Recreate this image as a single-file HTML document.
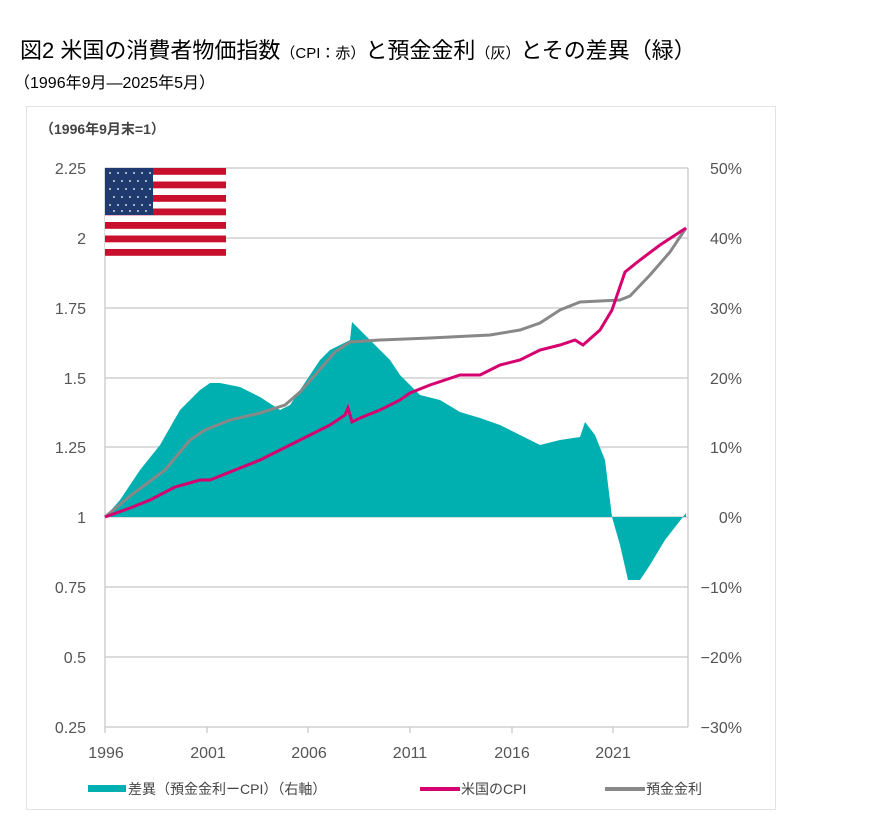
<!DOCTYPE html>
<html><head><meta charset="utf-8"><style>
body{margin:0;background:#fff;font-family:"Liberation Sans","Noto Sans CJK JP",sans-serif;}
</style></head><body>
<svg width="869" height="828" xmlns="http://www.w3.org/2000/svg" style="display:block">
<text x="20" y="58" font-size="22" font-family="Liberation Sans,Noto Sans CJK JP,sans-serif" fill="#000">図2  米国の消費者物価指数<tspan font-size="15">（CPI：赤）</tspan>と預金金利<tspan font-size="15">（灰）</tspan>とその差異（緑）</text>
<text x="14" y="88" font-size="16" font-family="Liberation Sans,Noto Sans CJK JP,sans-serif" fill="#000">（1996年9月—2025年5月）</text>
<rect x="26.5" y="106.5" width="749" height="703" fill="#fff" stroke="#e3e3e3"/>
<text x="40" y="134" font-size="14" font-weight="bold" fill="#444" font-family="Liberation Sans,Noto Sans CJK JP,sans-serif">（1996年9月末=1）</text>
<g stroke="#c8c8c8" stroke-width="1.3">
<line x1="105" y1="168" x2="688" y2="168"/><line x1="105" y1="238" x2="688" y2="238"/>
<line x1="105" y1="308" x2="688" y2="308"/><line x1="105" y1="378" x2="688" y2="378"/>
<line x1="105" y1="447" x2="688" y2="447"/><line x1="105" y1="517" x2="688" y2="517"/>
<line x1="105" y1="587" x2="688" y2="587"/><line x1="105" y1="657" x2="688" y2="657"/>
<line x1="105" y1="727" x2="688" y2="727"/><line x1="105" y1="168" x2="105" y2="733"/>
<line x1="688" y1="168" x2="688" y2="727"/>
<line x1="207" y1="727" x2="207" y2="733"/><line x1="308" y1="727" x2="308" y2="733"/>
<line x1="410" y1="727" x2="410" y2="733"/><line x1="512" y1="727" x2="512" y2="733"/><line x1="613" y1="727" x2="613" y2="733"/>
</g>
<g font-size="16" fill="#555" text-anchor="end">
<text x="86" y="174">2.25</text><text x="86" y="244">2</text><text x="86" y="314">1.75</text><text x="86" y="384">1.5</text><text x="86" y="453">1.25</text><text x="86" y="523">1</text><text x="86" y="593">0.75</text><text x="86" y="663">0.5</text><text x="86" y="733">0.25</text>
</g>
<g font-size="16" fill="#555" text-anchor="end">
<text x="742" y="174">50%</text><text x="742" y="244">40%</text><text x="742" y="314">30%</text><text x="742" y="384">20%</text><text x="742" y="453">10%</text><text x="742" y="523">0%</text><text x="742" y="593">−10%</text><text x="742" y="663">−20%</text><text x="742" y="733">−30%</text>
</g>
<g font-size="16" fill="#555" text-anchor="middle">
<text x="106" y="758">1996</text><text x="208" y="758">2001</text><text x="309" y="758">2006</text><text x="410" y="758">2011</text><text x="512" y="758">2016</text><text x="613" y="758">2021</text>
</g>
<path fill="#00b0b0" d="M105,517 L120,500 L140,470 L160,445 L180,410 L200,390 L210,383 L220,383 L240,387 L260,397 L280,410 L290,405 L300,390 L310,375 L320,360 L330,350 L340,345 L350,340 L352,322 L358,328 L365,335 L375,345 L390,360 L400,375 L420,395 L440,400 L460,412 L480,418 L500,425 L520,435 L540,445 L560,440 L580,437 L585,422 L595,435 L605,460 L612,517 L620,545 L628,580 L640,580 L650,565 L665,540 L686,513 L686,517 Z"/>
<polyline fill="none" stroke="#888" stroke-width="3" points="105,517 130,496 165,470 190,440 205,430 230,420 260,413 285,405 300,392 315,375 335,352 350,342 380,340 430,338 490,335 520,330 540,323 560,310 580,302 600,301 620,300 630,296 650,275 670,252 686,228"/>
<polyline fill="none" stroke="#d6006f" stroke-width="3" points="105,517 130,508 150,500 175,487 200,480 210,480 230,472 260,460 290,445 310,435 330,425 345,415 348,408 352,422 360,418 380,410 400,400 410,393 430,385 460,375 480,375 500,365 520,360 540,350 560,345 575,340 583,345 600,330 612,310 625,272 640,260 660,245 686,228"/>
<rect x="105" y="168" width="121" height="88" fill="#fff"/>
<g fill="#c8102e">
<rect x="105" y="168" width="121" height="6.8"/><rect x="105" y="181.5" width="121" height="6.8"/><rect x="105" y="195" width="121" height="6.8"/><rect x="105" y="208.5" width="121" height="6.8"/><rect x="105" y="222" width="121" height="6.8"/><rect x="105" y="235.5" width="121" height="6.8"/><rect x="105" y="249" width="121" height="6.8"/>
</g>
<rect x="105" y="168" width="48" height="47" fill="#1f3a6e"/>
<g fill="#fff" opacity="0.8">
<circle cx="110" cy="173" r="1"/><circle cx="118" cy="173" r="1"/><circle cx="126" cy="173" r="1"/><circle cx="134" cy="173" r="1"/><circle cx="142" cy="173" r="1"/><circle cx="150" cy="173" r="1"/>
<circle cx="114" cy="181" r="1"/><circle cx="122" cy="181" r="1"/><circle cx="130" cy="181" r="1"/><circle cx="138" cy="181" r="1"/><circle cx="146" cy="181" r="1"/>
<circle cx="110" cy="189" r="1"/><circle cx="118" cy="189" r="1"/><circle cx="126" cy="189" r="1"/><circle cx="134" cy="189" r="1"/><circle cx="142" cy="189" r="1"/><circle cx="150" cy="189" r="1"/>
<circle cx="114" cy="197" r="1"/><circle cx="122" cy="197" r="1"/><circle cx="130" cy="197" r="1"/><circle cx="138" cy="197" r="1"/><circle cx="146" cy="197" r="1"/>
<circle cx="110" cy="205" r="1"/><circle cx="118" cy="205" r="1"/><circle cx="126" cy="205" r="1"/><circle cx="134" cy="205" r="1"/><circle cx="142" cy="205" r="1"/><circle cx="150" cy="205" r="1"/>
<circle cx="114" cy="211" r="1"/><circle cx="122" cy="211" r="1"/><circle cx="130" cy="211" r="1"/><circle cx="138" cy="211" r="1"/><circle cx="146" cy="211" r="1"/>
</g>
<rect x="88" y="785" width="38" height="7" fill="#00b0b0"/>
<text x="128" y="794" font-size="14" fill="#444" font-family="Liberation Sans,Noto Sans CJK JP,sans-serif">差異（預金金利ーCPI）（右軸）</text>
<rect x="420" y="787" width="40" height="4" fill="#d6006f"/>
<text x="461" y="794" font-size="14" fill="#444" font-family="Liberation Sans,Noto Sans CJK JP,sans-serif">米国のCPI</text>
<rect x="605" y="787" width="40" height="4" fill="#888"/>
<text x="646" y="794" font-size="14" fill="#444" font-family="Liberation Sans,Noto Sans CJK JP,sans-serif">預金金利</text>
</svg>
</body></html>
